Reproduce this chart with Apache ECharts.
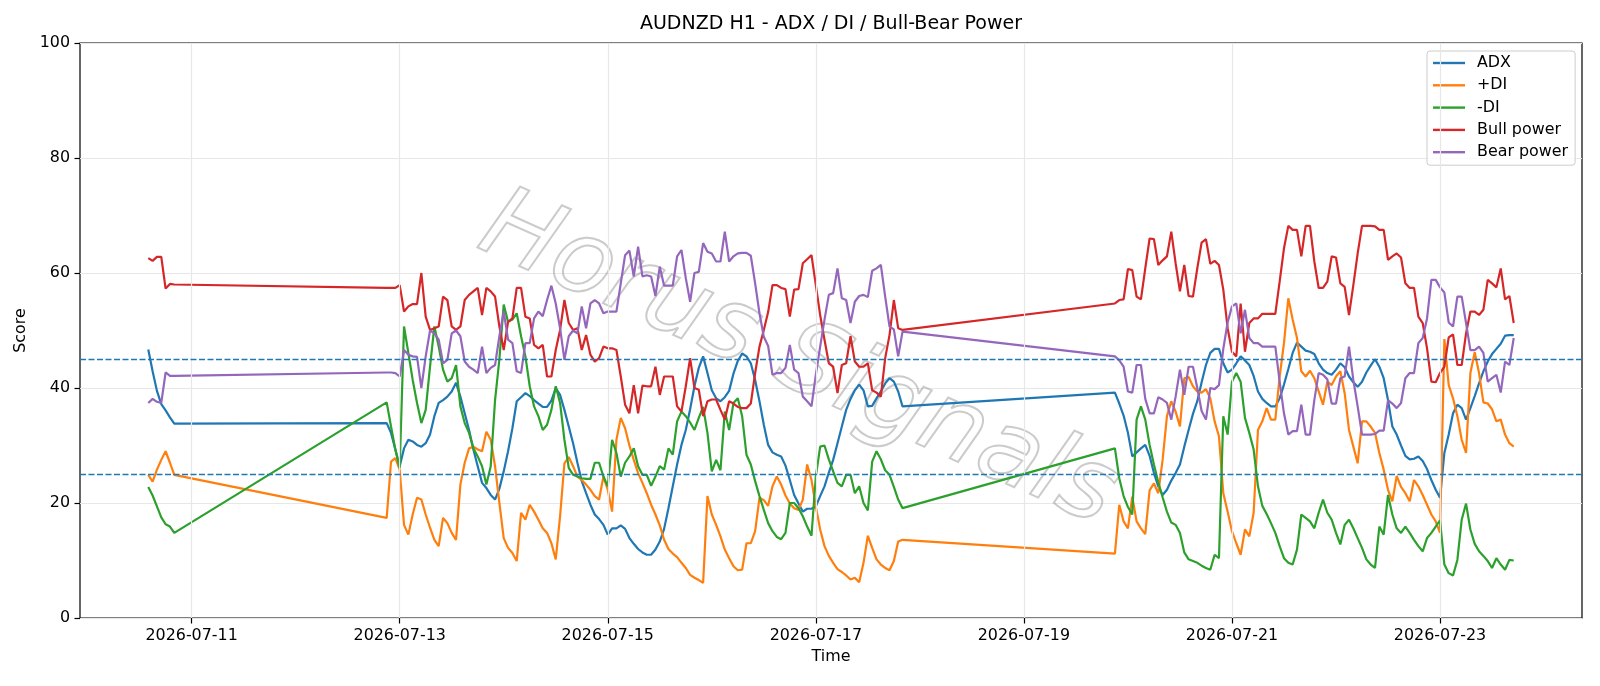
<!DOCTYPE html>
<html>
<head>
<meta charset="utf-8">
<script src="https://cdn.jsdelivr.net/npm/echarts@6/dist/echarts.min.js"></script>
<style>
  html, body { margin: 0; padding: 0; background: #fff; }
  #chart { width: 1600px; height: 686px; }
</style>
</head>
<body>
<div id="chart"></div>
<script>
// trading blocks, hourly bars: [year, month(0-based), day, hour, count]
const segments = [
  [2026, 6, 10, 14, 7],
  [2026, 6, 12, 21, 120],
  [2026, 6, 19, 21, 93]
];

const tickDates = ['2026-07-11', '2026-07-13', '2026-07-15', '2026-07-17', '2026-07-19', '2026-07-21', '2026-07-23'];
const yTicks = [0, 20, 40, 60, 80, 100];
const levels = [25, 45];

const adx = [
  46.7, 42.9, 39.5, 37.2, 36.1, 34.9, 33.8,
  33.9, 32.2, 29.3, 26.4, 29.5, 31.0, 30.7, 30.1, 29.8, 30.4, 31.9, 35.1, 37.4, 37.9, 38.5, 39.4, 40.9, 38.5, 35.6, 32.7, 29.3, 26.4, 23.5, 22.6, 21.4, 20.6, 22.5, 25.5, 29.0,
  33.0, 37.7, 38.4, 39.1, 38.6, 37.9, 37.3, 36.7, 36.7, 37.8, 40.0, 38.8, 36.2, 33.3, 30.4, 27.0, 23.8, 21.7, 19.7, 18.0, 17.2, 16.2, 14.5, 15.6, 15.6, 16.1, 15.5,
  13.9, 12.9, 12.0, 11.4, 11.0, 11.0, 11.9, 13.3, 15.5, 19.1, 22.9, 26.7, 30.1, 32.7, 36.3, 40.3, 43.5, 45.5, 42.6, 39.6, 38.2, 37.7, 38.4, 39.5, 42.5, 44.7, 46.0, 45.5,
  44.3, 41.4, 37.7, 33.6, 30.1, 28.8, 28.4, 28.1, 26.5, 24.0, 21.4, 19.9, 18.5, 19.0, 19.0, 19.4, 21.2, 22.9, 25.3, 27.5, 30.4, 33.3, 36.2, 38.1, 39.6, 40.6, 39.6, 36.8, 36.9, 38.2, 39.4, 40.8, 41.7, 41.1, 39.4, 36.8,
  39.2, 37.3, 35.2, 32.2, 28.1, 28.8, 29.5, 30.1, 28.2, 25.2, 22.9, 21.4, 22.3, 23.9, 25.2, 26.7, 29.8, 32.7, 35.5, 37.7, 41.0, 44.0,
  46.1, 46.8, 46.8, 44.3, 42.7, 43.2, 44.3, 45.5, 44.8, 44.0, 42.1, 39.4, 38.1, 37.4, 36.8, 36.8, 38.2, 40.6, 43.3, 46.1, 47.9, 47.2, 46.5, 46.3, 45.9, 44.3, 43.2, 42.6,
  42.3, 43.2, 44.3, 43.6, 42.0, 41.0, 40.2, 41.1, 42.7, 43.9, 45.0, 43.7, 41.7, 37.9, 33.3, 31.9, 30.0, 28.2, 27.6, 27.7, 28.1, 27.3, 25.9, 24.0, 22.3,
  20.9, 28.7, 31.9, 35.6, 37.1, 36.5, 34.5, 36.5, 38.6, 40.8, 42.9, 44.6, 45.9, 46.8, 47.7, 49.1, 49.2, 49.2
];

const plusDi = [
  24.9, 23.7, 25.8, 27.5, 29.0, 27.0, 24.9,
  17.4, 27.2, 27.8, 25.8, 16.2, 14.5, 18.0, 20.9, 20.6, 18.0, 15.7, 13.6, 12.5, 17.4, 16.5, 14.8, 13.6, 23.2, 27.0, 29.5, 29.8, 29.3, 29.0, 32.4, 31.0, 26.4, 20.0, 13.9, 12.2,
  11.3, 9.9, 18.3, 17.1, 19.7, 18.5, 17.1, 15.6, 14.8, 13.0, 10.2, 17.7, 26.9, 28.0, 26.4, 24.6, 24.0, 23.2, 22.3, 21.2, 20.6, 24.6, 22.3, 18.5, 31.0, 34.8, 33.0,
  30.0, 27.5, 25.2, 23.5, 21.7, 19.7, 18.0, 16.1, 13.6, 12.0, 11.2, 10.6, 9.6, 8.7, 7.5, 7.0, 6.6, 6.1, 21.2, 18.0, 16.2, 14.2, 11.9, 10.4, 9.0, 8.3, 8.4, 13.0,
  13.0, 15.1, 20.9, 20.5, 19.5, 22.9, 24.6, 23.2, 21.3, 19.9, 19.1, 18.8, 20.6, 26.7, 24.0, 19.4, 15.4, 12.5, 10.8, 9.6, 8.5, 8.0, 7.4, 6.7, 7.0, 6.2, 9.6, 14.3, 12.2, 10.2, 9.3, 8.7, 8.3, 9.9, 13.3, 13.6,
  11.2, 19.7, 16.8, 15.6, 21.1, 16.8, 15.6, 14.6, 22.2, 23.4, 21.7, 27.5, 35.1, 37.7, 35.9, 33.3, 41.7, 41.9, 40.3, 39.4, 39.2, 39.8,
  38.2, 34.2, 31.6, 21.7, 18.5, 15.1, 13.0, 11.0, 15.4, 14.2, 18.3, 32.7, 34.2, 36.5, 34.5, 34.5, 42.0, 47.8, 55.6, 51.9, 48.7, 42.9, 42.0, 43.0, 41.7, 39.4, 37.1, 41.1,
  40.5, 42.0, 42.9, 39.1, 32.7, 29.8, 26.9, 34.2, 34.2, 33.3, 32.2, 28.7, 25.8, 22.3, 20.3, 24.7, 22.8, 21.7, 20.3, 24.0, 22.9, 21.4, 19.7, 18.0, 16.8,
  14.8, 48.5, 40.5, 38.2, 35.1, 31.0, 28.7, 42.6, 46.2, 42.6, 37.5, 37.3, 36.3, 34.2, 34.5, 31.9, 30.4, 29.8
];

const minusDi = [
  22.8, 21.3, 19.4, 17.5, 16.3, 15.9, 14.8,
  37.5, 33.3, 29.3, 26.1, 50.7, 46.1, 41.4, 37.4, 33.9, 36.2, 43.7, 50.7, 47.2, 43.2, 41.1, 41.7, 44.0, 36.8, 33.9, 32.2, 29.5, 28.1, 26.4, 23.2, 26.4, 37.9, 45.0, 54.5, 51.5,
  51.9, 53.0, 49.0, 45.5, 40.3, 36.8, 35.1, 32.7, 33.6, 36.2, 40.3, 37.4, 31.0, 26.1, 24.9, 24.6, 24.3, 24.2, 24.2, 27.0, 27.0, 24.6, 22.9, 31.0, 28.7, 24.6, 27.0,
  28.1, 29.5, 26.4, 24.9, 24.9, 23.0, 24.6, 26.4, 25.8, 29.5, 28.4, 34.2, 35.9, 35.1, 34.0, 32.7, 34.8, 36.7, 32.2, 25.5, 27.5, 25.7, 35.9, 32.7, 37.4, 38.2, 35.1, 28.4,
  26.7, 23.8, 21.2, 18.8, 16.5, 15.1, 14.1, 13.7, 14.8, 20.0, 20.0, 19.1, 17.7, 15.9, 14.3, 24.6, 29.8, 30.0, 27.6, 25.5, 23.5, 22.9, 24.9, 24.9, 21.7, 22.9, 20.0, 18.7, 27.2, 29.0, 27.6, 25.7, 24.9, 22.8, 20.6, 19.1,
  29.5, 24.3, 21.2, 19.3, 18.0, 34.5, 36.8, 34.5, 30.1, 26.7, 23.6, 21.0, 18.5, 16.6, 16.2, 14.8, 11.4, 10.2, 9.9, 9.6, 9.1, 8.7,
  8.4, 11.0, 10.4, 35.1, 31.9, 41.1, 42.6, 41.1, 34.8, 32.2, 29.3, 22.9, 19.5, 18.1, 16.5, 14.8, 12.5, 10.4, 9.6, 9.3, 11.9, 18.0, 17.4, 16.8, 15.6, 18.3, 20.6, 18.3,
  17.1, 14.8, 12.8, 16.2, 17.1, 15.6, 13.9, 12.2, 10.2, 9.3, 8.7, 15.9, 14.5, 21.4, 18.0, 15.6, 14.8, 15.9, 14.8, 13.6, 12.5, 11.6, 13.9, 14.8, 15.9,
  17.0, 9.3, 7.8, 7.4, 10.1, 17.1, 19.9, 15.4, 12.9, 11.6, 10.8, 9.9, 8.7, 10.4, 9.3, 8.4, 10.1, 10.0
];

const bullPower = [
  62.6, 62.1, 62.8, 62.8, 57.3, 58.1, 58.0,
  57.4, 57.4, 57.4, 57.9, 53.3, 54.2, 54.6, 54.6, 60.0, 52.4, 50.1, 50.4, 50.7, 55.9, 55.3, 50.7, 50.1, 50.7, 55.3, 56.2, 56.8, 57.4, 52.7, 57.4, 56.8, 55.9, 50.7, 46.6, 51.5,
  52.1, 57.4, 57.4, 52.4, 52.1, 47.5, 46.9, 47.5, 42.0, 42.0, 46.6, 50.1, 55.3, 51.3, 50.1, 50.4, 46.6, 49.2, 45.8, 44.6, 45.2, 47.2, 46.9, 46.9, 46.6, 42.0, 37.1,
  35.6, 40.5, 35.6, 40.4, 40.3, 40.3, 43.7, 38.8, 42.0, 42.0, 42.0, 36.8, 35.9, 40.3, 45.2, 40.0, 39.7, 35.1, 37.7, 38.0, 38.0, 36.2, 34.5, 37.7, 37.3, 36.7, 36.5, 36.5,
  37.3, 42.6, 47.2, 50.1, 53.2, 57.9, 57.9, 57.4, 57.2, 52.4, 57.1, 57.2, 61.7, 62.4, 63.1, 57.9, 52.7, 48.4, 44.3, 43.7, 39.1, 44.0, 44.3, 49.0, 44.6, 43.7, 43.7, 44.3, 39.6, 39.2, 38.5, 45.2, 49.2, 55.3, 50.4, 50.1,
  54.7, 55.3, 55.4, 60.7, 60.5, 55.9, 55.4, 60.8, 66.0, 65.9, 61.4, 62.2, 62.9, 67.2, 61.7, 56.8, 61.4, 56.0, 55.9, 60.8, 65.3, 65.9,
  61.6, 62.1, 61.4, 57.1, 50.4, 46.3, 45.5, 54.7, 46.3, 51.3, 52.1, 52.1, 52.9, 52.9, 52.9, 52.9, 58.5, 64.3, 68.2, 67.5, 67.5, 62.9, 68.2, 68.2, 62.0, 57.4, 57.4, 58.5,
  62.9, 62.7, 58.2, 57.6, 52.7, 57.9, 63.4, 68.2, 68.2, 68.2, 68.1, 67.5, 67.5, 62.3, 62.9, 63.4, 62.7, 58.2, 57.4, 57.4, 52.4, 51.3, 46.9, 41.1, 41.0,
  42.6, 43.7, 48.8, 49.3, 44.0, 44.0, 49.5, 53.3, 53.3, 52.7, 53.6, 58.8, 58.2, 57.5, 60.8, 55.4, 56.0, 51.3
];

const bearPower = [
  37.4, 38.1, 37.6, 37.4, 42.7, 42.1, 42.1,
  42.7, 42.7, 42.6, 42.0, 46.6, 45.8, 45.5, 45.4, 40.0, 45.5, 50.0, 49.5, 48.4, 44.3, 44.9, 49.5, 50.0, 49.0, 44.6, 43.7, 43.2, 42.6, 47.2, 42.6, 43.5, 44.0, 49.0, 53.3, 48.4,
  47.8, 42.9, 42.6, 47.8, 47.8, 52.1, 53.3, 52.5, 55.3, 57.8, 54.7, 50.4, 44.9, 49.0, 50.0, 49.5, 54.2, 50.4, 54.7, 55.3, 54.7, 53.0, 53.3, 53.3, 53.3, 58.2, 63.1,
  63.9, 59.4, 64.6, 59.4, 59.6, 59.4, 56.0, 61.1, 57.8, 57.8, 57.8, 62.9, 64.0, 59.1, 55.0, 60.0, 60.2, 65.2, 63.7, 63.4, 62.0, 62.0, 67.2, 62.0, 62.9, 63.4, 63.5, 63.5,
  63.0, 58.2, 53.0, 48.9, 47.3, 42.3, 42.6, 42.6, 43.5, 47.5, 43.2, 42.6, 38.5, 37.7, 36.8, 42.3, 47.2, 51.9, 56.2, 56.5, 60.8, 55.6, 55.3, 51.3, 55.0, 56.0, 56.2, 55.8, 60.4, 60.8, 61.4, 55.9, 50.7, 50.2, 45.5, 49.8,
  45.5, 44.8, 43.7, 39.4, 39.2, 44.0, 44.0, 38.1, 35.6, 35.6, 38.4, 38.0, 37.4, 34.5, 38.5, 43.2, 38.8, 43.7, 43.7, 40.0, 36.0, 34.5,
  40.0, 39.8, 40.5, 46.8, 51.4, 54.2, 54.7, 49.5, 53.6, 48.7, 47.8, 47.8, 47.2, 47.2, 47.2, 47.2, 41.1, 35.6, 31.9, 32.5, 32.5, 37.1, 31.9, 31.9, 37.9, 42.6, 42.3, 41.5,
  37.3, 37.3, 41.7, 42.0, 47.2, 41.4, 36.8, 31.9, 31.9, 31.9, 32.0, 32.6, 32.6, 37.9, 37.3, 36.5, 37.4, 41.7, 42.6, 42.6, 47.8, 48.7, 52.1, 58.8, 58.8,
  57.5, 56.6, 51.4, 50.7, 55.9, 55.9, 51.3, 46.6, 46.6, 47.2, 46.1, 41.1, 41.7, 42.3, 39.2, 44.6, 44.0, 48.7
];

const FONT = 'DejaVu Sans, sans-serif';
const HOUR = 3600 * 1000;

// hourly timestamps for every bar
const times = [];
segments.forEach(([y, m, d, h, n]) => {
  const start = Date.UTC(y, m, d, h);
  for (let i = 0; i < n; i++) times.push(start + i * HOUR);
});

const toTime = s => Date.UTC(+s.slice(0, 4), +s.slice(5, 7) - 1, +s.slice(8, 10));
const tickTimes = tickDates.map(toTime);
const pad = n => (n < 10 ? '0' : '') + n;
const fmtDate = v => {
  const d = new Date(v);
  return d.getUTCFullYear() + '-' + pad(d.getUTCMonth() + 1) + '-' + pad(d.getUTCDate());
};

// matplotlib style 5% margins around the data
const span = times[times.length - 1] - times[0];
const xMin = times[0] - span * 0.05;
const xMax = times[times.length - 1] + span * 0.05;

const lineSeries = (name, values, color) => ({
  name,
  type: 'line',
  data: values.map((v, i) => [times[i], v]),
  symbol: 'none',
  lineStyle: { width: 2.2, color },
  itemStyle: { color },
  z: 3
});

const chart = echarts.init(document.getElementById('chart'));
chart.setOption({
  animation: false,
  backgroundColor: '#fff',
  title: {
    text: 'AUDNZD H1 - ADX / DI / Bull-Bear Power',
    left: 831,
    top: 15,
    padding: 0,
    textAlign: 'center',
    textStyle: { fontFamily: FONT, fontSize: 19, fontWeight: 'normal', color: '#000' }
  },
  legend: {
    data: ['ADX', '+DI', '-DI', 'Bull power', 'Bear power'],
    orient: 'vertical',
    left: 1427,
    top: 51,
    padding: [4, 7, 5, 6],
    icon: 'rect',
    itemWidth: 32,
    itemHeight: 2.4,
    itemGap: 6.3,
    backgroundColor: 'rgba(255,255,255,0.8)',
    borderColor: '#cccccc',
    borderWidth: 1,
    borderRadius: 3,
    textStyle: { fontFamily: FONT, fontSize: 15.9, color: '#000', lineHeight: 16, padding: [0, 0, 0, 7] }
  },
  graphic: [{
    type: 'text',
    x: 798,
    y: 362,
    rotation: -0.42,
    z: 1,
    silent: true,
    style: {
      text: 'Horus Signals',
      font: 'italic 100px ' + FONT,
      textAlign: 'center',
      textVerticalAlign: 'middle',
      fill: 'rgba(255,255,255,0)',
      stroke: 'rgba(140,140,140,0.45)',
      lineWidth: 2
    }
  }],
  grid: {
    left: 80, right: 18, top: 43, bottom: 68,
    show: true, borderColor: '#000', borderWidth: 1.2, backgroundColor: 'transparent'
  },
  xAxis: {
    type: 'value',
    min: xMin,
    max: xMax,
    name: 'Time',
    nameLocation: 'middle',
    nameGap: 30,
    nameTextStyle: { fontFamily: FONT, fontSize: 15.9, color: '#000' },
    axisLine: { show: false },
    axisTick: { show: true, customValues: tickTimes, length: 5.5, lineStyle: { color: '#000', width: 1.2 } },
    axisLabel: { customValues: tickTimes, formatter: fmtDate, fontFamily: FONT, fontSize: 15.9, color: '#000', margin: 10 },
    splitLine: { show: false }
  },
  yAxis: {
    type: 'value',
    min: yTicks[0],
    max: yTicks[yTicks.length - 1],
    interval: 20,
    name: 'Score',
    nameLocation: 'middle',
    nameGap: 43,
    nameTextStyle: { fontFamily: FONT, fontSize: 15.9, color: '#000' },
    axisLine: { show: false },
    axisTick: { show: true, length: 5.5, lineStyle: { color: '#000', width: 1.2 } },
    axisLabel: { fontFamily: FONT, fontSize: 15.9, color: '#000', margin: 10 },
    splitLine: { lineStyle: { color: '#e7e7e7', width: 1.2 } }
  },
  series: [
    {
      // vertical grid lines at the date ticks
      type: 'line', data: [], z: 1, silent: true,
      markLine: {
        silent: true, symbol: ['none', 'none'], label: { show: false },
        lineStyle: { color: '#e7e7e7', width: 1.2, type: 'solid' },
        data: tickTimes.map(t => ({ xAxis: t }))
      }
    },
    lineSeries('ADX', adx, '#1f77b4'),
    lineSeries('+DI', plusDi, '#ff7f0e'),
    lineSeries('-DI', minusDi, '#2ca02c'),
    lineSeries('Bull power', bullPower, '#d62728'),
    lineSeries('Bear power', bearPower, '#9467bd'),
    {
      // reference levels
      type: 'line', data: [], z: 4, silent: true,
      markLine: {
        silent: true, symbol: ['none', 'none'], label: { show: false },
        lineStyle: { color: '#1f77b4', width: 1.4, type: [6, 2.5] },
        data: levels.map(v => ({ yAxis: v }))
      }
    }
  ]
});
</script>
</body>
</html>
